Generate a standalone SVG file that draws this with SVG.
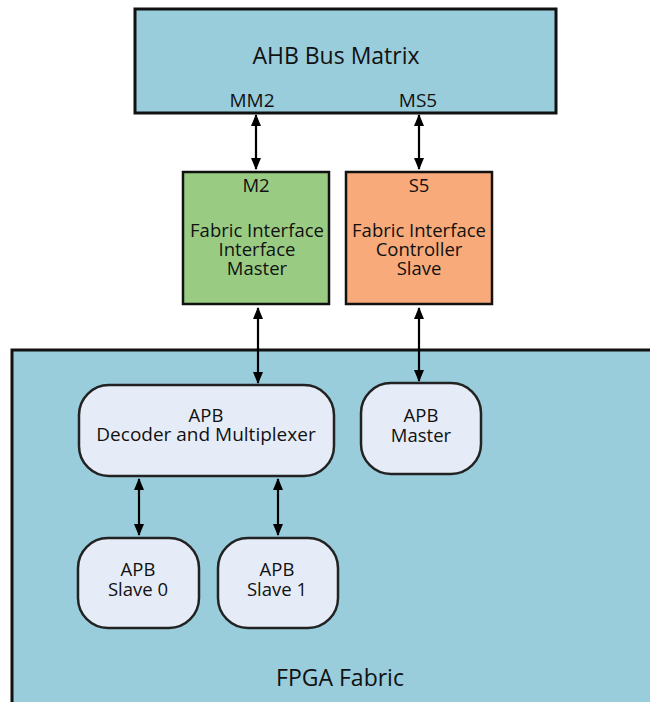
<svg xmlns="http://www.w3.org/2000/svg" width="650" height="702" viewBox="0 0 650 702">
  <defs>
    <marker id="ah" viewBox="0 0 12 10" refX="11" refY="5" markerWidth="12" markerHeight="10" markerUnits="userSpaceOnUse" orient="auto-start-reverse">
      <path d="M0,0 L12,5 L0,10 Z" fill="#000"/>
    </marker>
    <style>
      text { font-family: "Open Sans", "Noto Sans", "DejaVu Sans", sans-serif; fill: #111; text-anchor: middle; }
      .blue { fill: #99CDDC; stroke: #111; stroke-width: 3; }
      .green { fill: #99CC82; stroke: #111; stroke-width: 2.5; }
      .orange { fill: #F8AA7A; stroke: #111; stroke-width: 2.5; }
      .pill { fill: #E6ECF7; stroke: #222; stroke-width: 2.5; }
      .lg { font-size: 23px; }
      .port { font-size: 19px; }
      .md { font-size: 18.5px; }
      .sm { font-size: 18.5px; }
      .conn { stroke: #000; stroke-width: 2.2; fill: none; marker-start: url(#ah); marker-end: url(#ah); }
    </style>
  </defs>

  <!-- FPGA fabric region -->
  <g id="fpga-fabric">
    <rect class="blue" x="12" y="350" width="660" height="380"/>
    <text class="lg" x="340" y="686">FPGA Fabric</text>
  </g>

  <!-- AHB bus matrix -->
  <g id="ahb-bus-matrix">
    <rect class="blue" x="135" y="9" width="421" height="104"/>
    <text class="lg" x="336" y="64">AHB Bus Matrix</text>
    <text class="port" x="252" y="107">MM2</text>
    <text class="port" x="418" y="107">MS5</text>
  </g>

  <!-- Fabric interface master -->
  <g id="fic-master">
    <rect class="green" x="183" y="172" width="146" height="132"/>
    <text class="md" x="256" y="192">M2</text>
    <text class="md" x="257" y="237">Fabric Interface</text>
    <text class="md" x="257" y="256">Interface</text>
    <text class="md" x="257" y="275">Master</text>
  </g>

  <!-- Fabric interface controller slave -->
  <g id="fic-slave">
    <rect class="orange" x="346" y="172" width="146" height="132"/>
    <text class="md" x="419" y="192">S5</text>
    <text class="md" x="419" y="237">Fabric Interface</text>
    <text class="md" x="419" y="256">Controller</text>
    <text class="md" x="419" y="275">Slave</text>
  </g>

  <!-- APB decoder and multiplexer -->
  <g id="apb-decoder">
    <rect class="pill" x="79" y="385" width="255" height="91" rx="30" ry="30"/>
    <text class="sm" x="206" y="422">APB</text>
    <text class="sm" x="206" y="441" style="font-size:19px">Decoder and Multiplexer</text>
  </g>

  <!-- APB master -->
  <g id="apb-master">
    <rect class="pill" x="361" y="383" width="120" height="91" rx="30" ry="30"/>
    <text class="sm" x="421" y="422">APB</text>
    <text class="sm" x="421" y="442">Master</text>
  </g>

  <!-- APB slaves -->
  <g id="apb-slave-0">
    <rect class="pill" x="78" y="538" width="121" height="90" rx="30" ry="30"/>
    <text class="sm" x="138" y="576">APB</text>
    <text class="sm" x="138" y="596">Slave 0</text>
  </g>
  <g id="apb-slave-1">
    <rect class="pill" x="218" y="538" width="120" height="90" rx="30" ry="30"/>
    <text class="sm" x="277" y="576">APB</text>
    <text class="sm" x="277" y="596">Slave 1</text>
  </g>

  <!-- Bidirectional connectors -->
  <g id="connectors">
    <line class="conn" x1="256" y1="115" x2="256" y2="169"/>
    <line class="conn" x1="419" y1="115" x2="419" y2="169"/>
    <line class="conn" x1="258" y1="308" x2="258" y2="383"/>
    <line class="conn" x1="419" y1="308" x2="419" y2="381"/>
    <line class="conn" x1="139" y1="479" x2="139" y2="535"/>
    <line class="conn" x1="278" y1="479" x2="278" y2="535"/>
  </g>
</svg>
